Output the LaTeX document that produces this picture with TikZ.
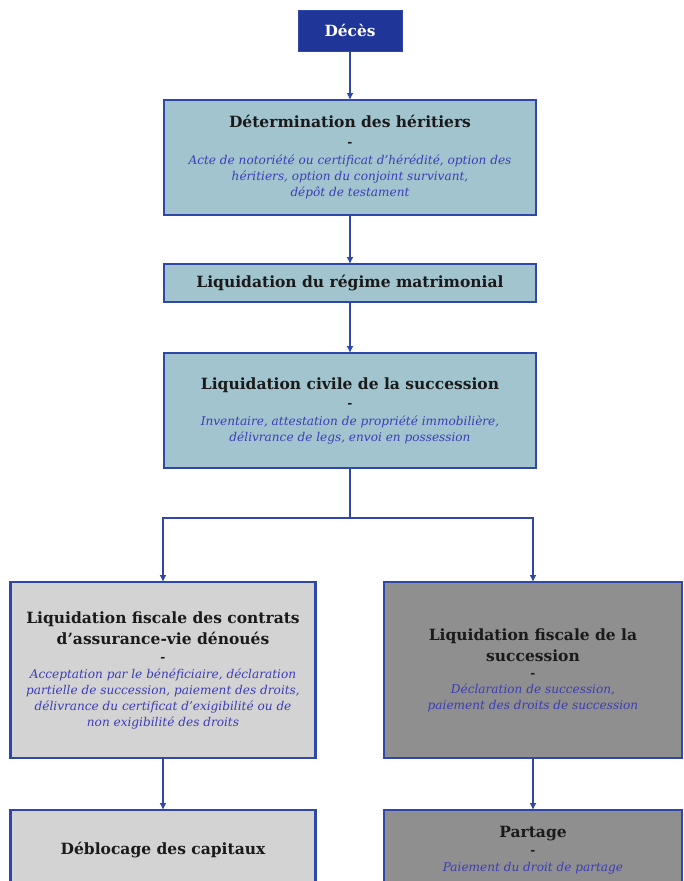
\documentclass[tikz,border=0pt]{standalone}
\usepackage{fontspec}
\setmainfont{DejaVu Serif}
\usetikzlibrary{arrows.meta,positioning}
\definecolor{decesblue}{HTML}{1F3597}
\definecolor{frame}{HTML}{2E47A8}
\definecolor{teal}{HTML}{A2C4CE}
\definecolor{light}{HTML}{D3D3D3}
\definecolor{darkgrey}{HTML}{8F8F8F}
\definecolor{detail}{HTML}{3B3DB5}
\definecolor{ink}{HTML}{1A1A1A}
\tikzset{
  >={Latex[length=7pt,width=7pt]},
  every node/.style={font=\fontsize{12.1}{16}\selectfont,text=ink},
  box/.style={draw=frame,line width=2.2pt,fill=teal,minimum width=372pt,align=center,inner sep=0pt,outer sep=0pt},
  lightbox/.style={box,fill=light,minimum width=305pt,minimum height=176pt},
  darkbox/.style={box,fill=darkgrey,minimum width=298pt,minimum height=176pt},
  startbox/.style={draw=frame,line width=1pt,fill=decesblue,minimum width=104pt,minimum height=41pt,inner sep=0pt,outer sep=0pt},
  arrow/.style={->,line width=2pt,draw=frame},
  line/.style={line width=2pt,draw=frame},
}
\newcommand{\ttl}[1]{{\fontsize{15.5}{18}\selectfont\bfseries #1}}
\newcommand{\dtl}[1]{{\itshape\color{detail}#1}}
\newcommand{\sep}{{\bfseries -}}

\begin{document}
\begin{tikzpicture}[x=1pt,y=-1pt]
\useasboundingbox (0,0) rectangle (683,881);
\clip (0,0) rectangle (683,881);

\node[startbox] (deces) at (350,30.5) {\fontsize{15.4}{18}\selectfont\bfseries\color{white}Décès};

\node[box,minimum height=115pt,below=49pt of deces] (heritiers)
{\ttl{Détermination des héritiers}\\[3pt]
\sep\\[2pt]
\dtl{Acte de notoriété ou certificat d'hérédité, option des}\\
\dtl{héritiers, option du conjoint survivant,}\\
\dtl{dépôt de testament}};

\node[box,minimum height=38pt,below=49pt of heritiers] (regime)
{\ttl{Liquidation du régime matrimonial}};

\node[box,minimum height=115pt,below=51pt of regime] (civile)
{\ttl{Liquidation civile de la succession}\\[2pt]
\sep\\[2pt]
\dtl{Inventaire, attestation de propriété immobilière,}\\
\dtl{délivrance de legs, envoi en possession}};

% two branches
\node[lightbox] (fiscav) at (163,670)
{\ttl{Liquidation fiscale des contrats}\\[5pt]
\ttl{d'assurance-vie dénoués}\\[1pt]
\sep\\[1pt]
\dtl{Acceptation par le bénéficiaire, déclaration}\\
\dtl{partielle de succession, paiement des droits,}\\
\dtl{délivrance du certificat d'exigibilité ou de}\\
\dtl{non exigibilité des droits}};

\node[darkbox] (fiscsucc) at (533,670)
{\ttl{Liquidation fiscale de la}\\[5pt]
\ttl{succession}\\
\sep\\
\dtl{Déclaration de succession,}\\
\dtl{paiement des droits de succession}};

\node[lightbox,minimum height=80pt,below=52pt of fiscav] (deblocage)
{\ttl{Déblocage des capitaux}};

\node[darkbox,minimum height=80pt,below=52pt of fiscsucc] (partage)
{\ttl{Partage}\\[1pt]
\sep\\[1pt]
\dtl{Paiement du droit de partage}};

\draw[arrow] (deces) -- (heritiers);
\draw[arrow] (heritiers) -- (regime);
\draw[arrow] (regime) -- (civile);
\draw[line] (civile.south) -- ++(0,50) coordinate (split);
\draw[arrow] (split) -| (fiscav);
\draw[arrow] (split) -| (fiscsucc);
\draw[arrow] (fiscav) -- (deblocage);
\draw[arrow] (fiscsucc) -- (partage);

\end{tikzpicture}
\end{document}
